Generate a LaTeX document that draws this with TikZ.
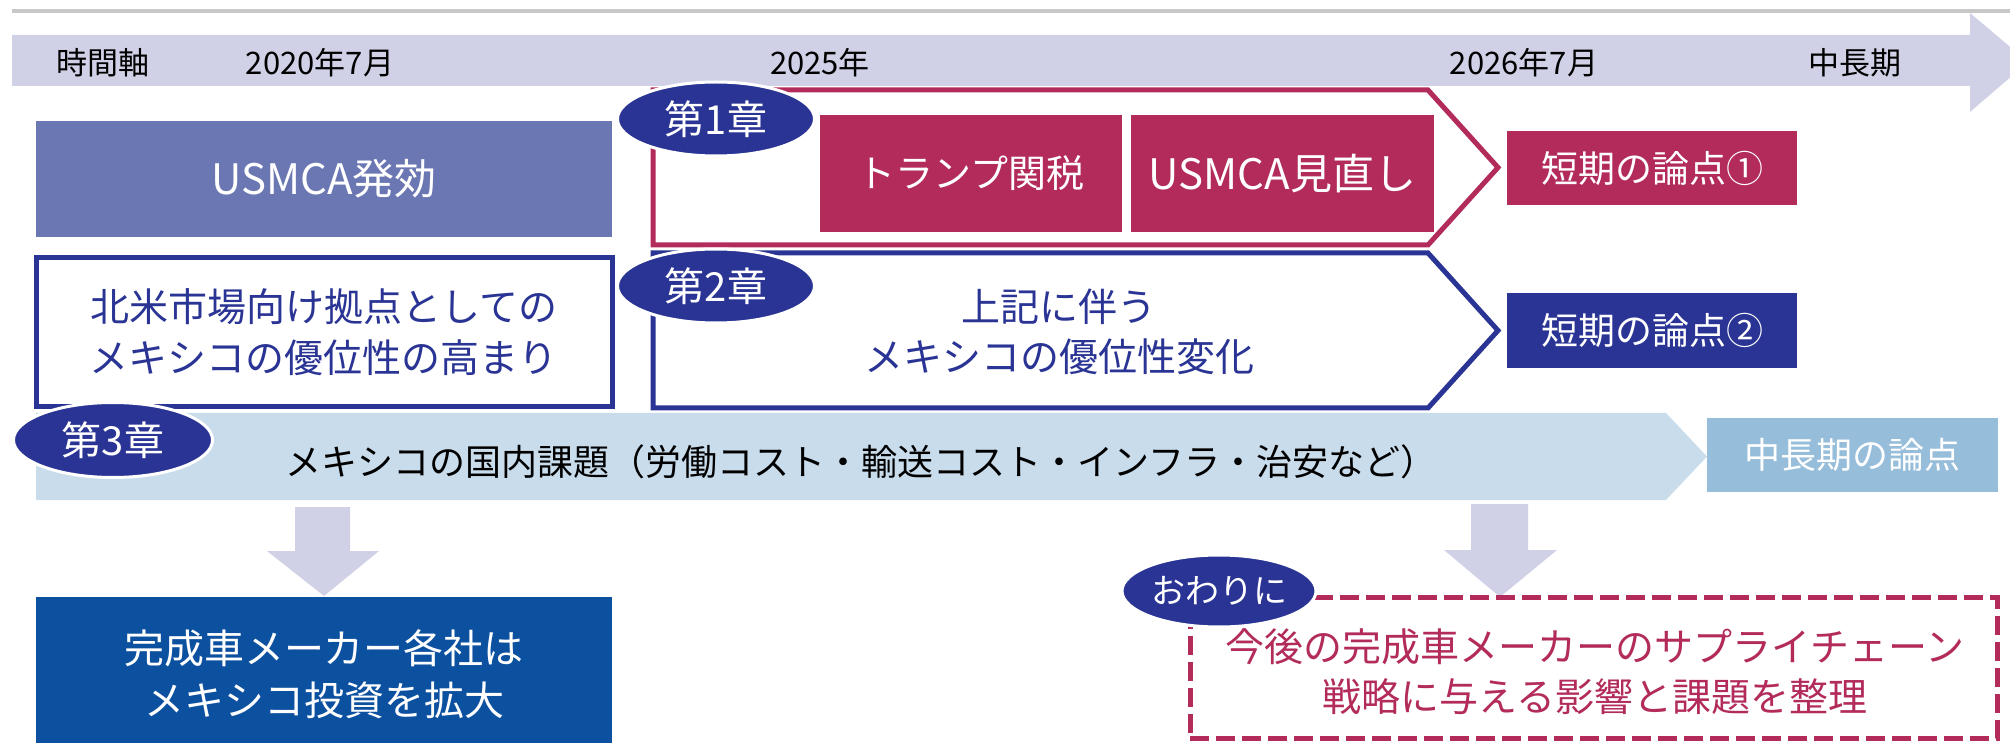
\documentclass[tikz,border=0pt]{standalone}
\usepackage{fontspec}
\setmainfont{Noto Sans CJK JP}
\usetikzlibrary{shapes.geometric}
\definecolor{lav}{HTML}{D0D1E6}
\definecolor{gline}{HTML}{C8C8C8}
\definecolor{usm}{HTML}{6A77B3}
\definecolor{navy}{HTML}{2A3494}
\definecolor{crim}{HTML}{B22B5B}
\definecolor{lblue}{HTML}{C9DCEB}
\definecolor{mblue}{HTML}{96BDDA}
\definecolor{dblue}{HTML}{0C50A0}
\tikzset{
  box/.style={rectangle, inner sep=0pt, align=center},
  chap/.style={ellipse, fill=navy, draw=white, line width=1.5pt, text=white, inner sep=0pt,
    font=\fontsize{20pt}{24pt}\selectfont},
  tl/.style={inner sep=0pt, text=black, font=\fontsize{15.5pt}{18pt}\selectfont},
  pent/.style={line width=2.5pt, fill=white, line join=miter},
  downarrow/.style={fill=lav},
}
\begin{document}
\begin{tikzpicture}[x=0.5pt,y=-0.5pt]
\useasboundingbox (0,0) rectangle (2010,743);
% top gray rule
\coordinate (g0) at (12,11);
\coordinate (g1) at (2010,11);
\draw[gline, line width=2pt] (g0) -- (g1);
% time axis arrow
\fill[lav] (12,35) -- (1970,35) -- (1970,13) -- (2028,62) -- (1970,112) -- (1970,86) -- (12,86) -- cycle;
\node[tl] (t0) at (103,63) {時間軸};
\node[tl] (t1) at (320,63) {2020年7月};
\node[tl] (t2) at (820,63) {2025年};
\node[tl] (t3) at (1524,63) {2026年7月};
\node[tl] (t4) at (1855,63) {中長期};

% USMCA box
\node[box, fill=usm, text=white, minimum width=288pt, minimum height=58pt,
  font=\fontsize{21pt}{25pt}\selectfont] (usmca) at (324,179) {USMCA発効};
% North America box
\node[box, draw=navy, line width=2.5pt, fill=white, text=navy, minimum width=288pt, minimum height=74.5pt,
  font=\fontsize{19.5pt}{25.5pt}\selectfont] (na) at (324,332.5) {北米市場向け拠点としての\\メキシコの優位性の高まり};

% Chapter 1 pentagon
\draw[crim, pent] (653,90) -- (1428,90) -- (1498,167.5) -- (1428,245) -- (653,245) -- cycle;
\node[box, fill=crim, text=white, minimum width=151pt, minimum height=58.5pt,
  font=\fontsize{19pt}{23pt}\selectfont] (tariff) at (971,173.5) {トランプ関税};
\node[box, fill=crim, text=white, minimum width=151.5pt, minimum height=58.5pt,
  font=\fontsize{21pt}{25pt}\selectfont] (review) at (1282.5,173.5) {USMCA見直し};
\node[chap, minimum width=98.5pt, minimum height=37pt] (c1) at (716,119) {第1章};
\node[box, fill=crim, text=white, minimum width=145pt, minimum height=37pt,
  font=\fontsize{18.5pt}{22pt}\selectfont] (s1) at (1652,168) {短期の論点①};

% Chapter 2 pentagon
\draw[navy, pent] (653,253) -- (1428,253) -- (1498,330.5) -- (1428,408) -- (653,408) -- cycle;
\node[inner sep=0pt, align=center, text=navy, font=\fontsize{19.5pt}{25pt}\selectfont] (c2t) at (1059,332) {上記に伴う\\メキシコの優位性変化};
\node[chap, minimum width=98.5pt, minimum height=37pt] (c2) at (716,286) {第2章};
\node[box, fill=navy, text=white, minimum width=145pt, minimum height=37.5pt,
  font=\fontsize{18.5pt}{22pt}\selectfont] (s2) at (1652,330.5) {短期の論点②};

% Chapter 3 bar
\fill[lblue] (36,413) -- (1666,413) -- (1707,456.5) -- (1666,500) -- (36,500) -- cycle;
\node[inner sep=0pt, text=black, font=\fontsize{18pt}{21pt}\selectfont] (c3t) at (861,462)
  {メキシコの国内課題（労働コスト・輸送コスト・インフラ・治安など）};
\node[chap, minimum width=99.5pt, minimum height=37.5pt] (c3) at (113,440) {第3章};
\node[box, fill=mblue, text=white, minimum width=145.5pt, minimum height=37pt,
  font=\fontsize{18pt}{22pt}\selectfont] (mid) at (1852.5,455) {中長期の論点};

% down arrows
\fill[downarrow] (295,507) -- (350,507) -- (350,551) -- (379,551) -- (324,596) -- (267,551) -- (295,551) -- cycle;
\fill[downarrow] (1471,504) -- (1528,504) -- (1528,550) -- (1557,550) -- (1500,597) -- (1444,550) -- (1471,550) -- cycle;

% investment box
\node[box, fill=dblue, minimum width=288pt, minimum height=81pt] (inv) at (324,678) {};
\node[inner sep=0pt, align=center, text=white, font=\fontsize{20pt}{26pt}\selectfont] (invt) at (324,674)
  {完成車メーカー各社は\\メキシコ投資を拡大};

% conclusion dashed box
\node[box, draw=crim, line width=2.5pt, dash pattern=on 9.5pt off 3.5pt, minimum width=403.5pt, minimum height=70.5pt] (conc) at (1593.5,667.5) {};
\node[inner sep=0pt, align=center, text=crim, font=\fontsize{19.5pt}{25pt}\selectfont] (conct) at (1595,672)
  {今後の完成車メーカーのサプライチェーン\\戦略に与える影響と課題を整理};
\node[chap, minimum width=97pt, minimum height=36pt, font=\fontsize{17pt}{20pt}\selectfont] (end) at (1219,591) {おわりに};
\end{tikzpicture}
\end{document}
